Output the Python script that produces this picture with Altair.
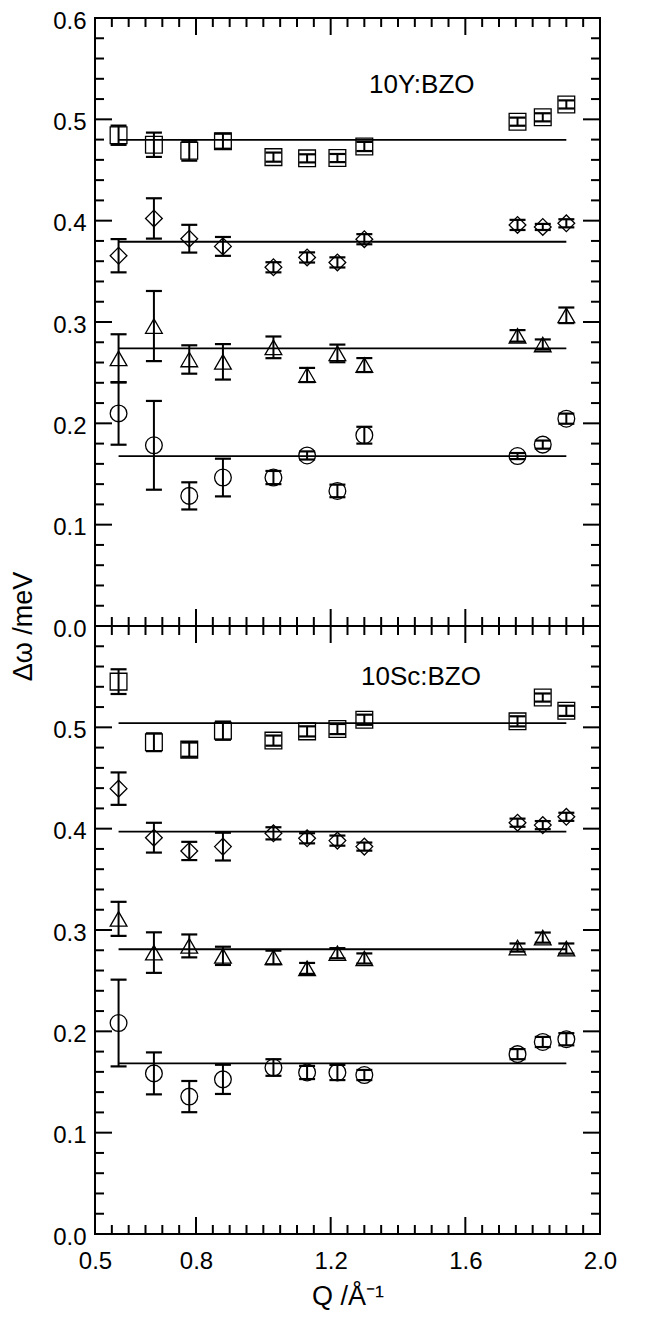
import altair as alt
import pandas as pd

# ---------------- data ----------------
Q = [0.57, 0.675, 0.78, 0.88, 1.03, 1.13, 1.22, 1.30, 1.755, 1.83, 1.90]
SERIES = ["square", "diamond", "triangle", "circle"]

# 10Y:BZO (upper panel)
y_square = [0.4843, 0.4749, 0.469, 0.4784, 0.4627, 0.4615, 0.4618, 0.4732, 0.4977, 0.502, 0.5147]
y_square_err = [0.0095, 0.012, 0.0098, 0.0074, 0.0045, 0.004, 0.004, 0.0045, 0.004, 0.004, 0.004]
y_diamond = [0.3654, 0.4022, 0.3822, 0.3746, 0.354, 0.3637, 0.3588, 0.3817, 0.3958, 0.3938, 0.3974]
y_diamond_err = [0.0164, 0.0199, 0.0137, 0.0093, 0.005, 0.005, 0.005, 0.005, 0.005, 0.003, 0.004]
y_triangle = [0.2641, 0.296, 0.263, 0.2607, 0.275, 0.2477, 0.269, 0.2575, 0.2863, 0.2778, 0.3066]
y_triangle_err = [0.0238, 0.0346, 0.014, 0.0175, 0.0107, 0.007, 0.0087, 0.0069, 0.0057, 0.005, 0.0077]
y_circle = [0.2098, 0.1783, 0.1284, 0.1465, 0.1465, 0.1683, 0.1333, 0.1883, 0.1677, 0.179, 0.2046]
y_circle_err = [0.0309, 0.0438, 0.0134, 0.0186, 0.0065, 0.004, 0.0062, 0.0083, 0.003, 0.004, 0.005]
y_levels = [0.4798, 0.3792, 0.2739, 0.1677]

# 10Sc:BZO (lower panel)
sc_square = [0.5451, 0.4853, 0.478, 0.4967, 0.4869, 0.496, 0.4983, 0.5075, 0.5059, 0.5294, 0.5163]
sc_square_err = [0.0122, 0.0088, 0.007, 0.009, 0.005, 0.005, 0.005, 0.005, 0.005, 0.004, 0.005]
sc_diamond = [0.4395, 0.3911, 0.378, 0.3823, 0.3954, 0.3905, 0.3882, 0.3823, 0.4059, 0.4035, 0.4117]
sc_diamond_err = [0.016, 0.0147, 0.009, 0.0137, 0.006, 0.005, 0.005, 0.004, 0.004, 0.004, 0.004]
sc_triangle = [0.311, 0.2777, 0.2843, 0.2745, 0.2729, 0.2621, 0.2771, 0.2719, 0.2827, 0.2925, 0.2817]
sc_triangle_err = [0.0168, 0.02, 0.0113, 0.009, 0.0067, 0.0054, 0.005, 0.005, 0.004, 0.005, 0.005]
sc_circle = [0.2082, 0.1585, 0.1356, 0.1526, 0.1643, 0.1594, 0.1594, 0.1569, 0.1775, 0.1895, 0.1922]
sc_circle_err = [0.0428, 0.0207, 0.0154, 0.0144, 0.0082, 0.0065, 0.0075, 0.005, 0.005, 0.005, 0.006]
sc_levels = [0.5042, 0.397, 0.281, 0.1683]

FIT_START = 0.57
FIT_END = 1.90

LABEL_Y = "10Y:BZO"
LABEL_Y_POS = (1.314, 0.526)
LABEL_SC = "10Sc:BZO"
LABEL_SC_POS = (1.29, 0.5415)

X_LABELS = [0.5, 0.8, 1.2, 1.6, 2.0]
X_MAJOR = [0.8, 1.2, 1.6]
X_MINOR = [0.55, 0.6, 0.65, 0.7, 0.75, 0.85, 0.9, 0.95, 1.0, 1.05, 1.1, 1.15,
           1.25, 1.3, 1.35, 1.4, 1.45, 1.5, 1.55, 1.65, 1.7, 1.75, 1.8, 1.85, 1.9, 1.95]
Y_LABELS_TOP = [0.0, 0.1, 0.2, 0.3, 0.4, 0.5, 0.6]
Y_LABELS_BOTTOM = [0.0, 0.1, 0.2, 0.3, 0.4, 0.5]
Y_MAJOR = [0.1, 0.2, 0.3, 0.4, 0.5]
Y_MINOR = [0.02, 0.04, 0.06, 0.08, 0.12, 0.14, 0.16, 0.18, 0.22, 0.24, 0.26, 0.28,
           0.32, 0.34, 0.36, 0.38, 0.42, 0.44, 0.46, 0.48, 0.52, 0.54, 0.56, 0.58]

# ---------------- styling ----------------
W, H = 505, 608
FONT = "Liberation Sans"
MAJ_LEN, MIN_LEN = 17, 9
TICK_FS = 24

xscale = alt.Scale(domain=[0.5, 2.0], nice=False, zero=False)
yscale = alt.Scale(domain=[0.0, 0.6], nice=False, zero=False)


def long_table(vals, errs):
    rows = []
    for s, v, e in zip(SERIES, vals, errs):
        for q, vv, ee in zip(Q, v, e):
            rows.append({"Q": q, "v": vv, "e": ee, "s": s})
    return pd.DataFrame(rows)


def panel(df, levels, label, label_pos, x_axis, y_axis):
    X = lambda f: alt.X(f"{f}:Q", scale=xscale, axis=x_axis)
    Y = lambda f: alt.Y(f"{f}:Q", scale=yscale, axis=y_axis)

    layers = []
    # inward frame ticks: x (top and bottom edges)
    for vals, ln in ((X_MAJOR, MAJ_LEN), (X_MINOR, MIN_LEN)):
        tdf = pd.DataFrame({"t": vals})
        base = alt.Chart(tdf).mark_rule(color="black", strokeWidth=2)
        layers.append(base.encode(x=X("t"), y=alt.value(0), y2=alt.value(ln)))
        layers.append(base.encode(x=X("t"), y=alt.value(H), y2=alt.value(H - ln)))
    # inward frame ticks: y (left and right edges)
    for vals, ln in ((Y_MAJOR, MAJ_LEN), (Y_MINOR, MIN_LEN)):
        tdf = pd.DataFrame({"t": vals})
        base = alt.Chart(tdf).mark_rule(color="black", strokeWidth=2)
        layers.append(base.encode(y=Y("t"), x=alt.value(0), x2=alt.value(ln)))
        layers.append(base.encode(y=Y("t"), x=alt.value(W), x2=alt.value(W - ln)))

    # fitted constant lines
    fdf = pd.DataFrame({"lvl": levels, "x0": [FIT_START] * len(levels), "x1": [FIT_END] * len(levels)})
    layers.append(
        alt.Chart(fdf).mark_rule(color="black", strokeWidth=1.8).encode(
            x=X("x0"), x2="x1:Q", y=Y("lvl")
        )
    )

    base = alt.Chart(df).transform_calculate(
        lo="datum.v - datum.e", hi="datum.v + datum.e"
    )
    # error bar stems
    layers.append(
        base.mark_rule(color="black", strokeWidth=2).encode(x=X("Q"), y=Y("lo"), y2="hi:Q")
    )
    # error bar caps
    layers.append(
        base.transform_fold(["lo", "hi"], as_=["k", "yv"]).mark_tick(
            orient="horizontal", size=16, thickness=2.2, color="black", opacity=1
        ).encode(x=X("Q"), y=Y("yv"))
    )
    # markers
    layers.append(
        alt.Chart(df).mark_point(filled=False, color="black", strokeWidth=1.3, size=280, opacity=1).encode(
            x=X("Q"),
            y=Y("v"),
            shape=alt.Shape(
                "s:N",
                scale=alt.Scale(domain=SERIES, range=["square", "diamond", "triangle-up", "circle"]),
                legend=None,
            ),
        )
    )
    # sample label
    tdf = pd.DataFrame({"lab": [label], "Q": [label_pos[0]], "v": [label_pos[1]]})
    layers.append(
        alt.Chart(tdf).mark_text(
            align="left", baseline="alphabetic", font=FONT, fontSize=26, color="black"
        ).encode(x=X("Q"), y=Y("v"), text="lab:N")
    )
    return alt.layer(*layers).properties(width=W, height=H)


y_axis_top = alt.Axis(
    values=Y_LABELS_TOP, format=".1f", ticks=False, domain=False, grid=False,
    labelFont=FONT, labelFontSize=TICK_FS, labelColor="black", labelPadding=9,
    labelFlush=False, labelOverlap=False, labelOffset=3,
    title="Δω /meV", titleFont=FONT, titleFontSize=27, titleFontWeight="normal",
    titleColor="black", titleX=-72, titleY=H, titleAlign="center", titleBaseline="middle",
)
y_axis_bottom = alt.Axis(
    values=Y_LABELS_BOTTOM, format=".1f", ticks=False, domain=False, grid=False,
    labelFont=FONT, labelFontSize=TICK_FS, labelColor="black", labelPadding=9,
    labelFlush=False, labelOverlap=False, labelOffset=3, title=None,
)
x_axis_bottom = alt.Axis(
    values=X_LABELS, format=".1f", ticks=False, domain=False, grid=False,
    labelFont=FONT, labelFontSize=TICK_FS, labelColor="black", labelPadding=15,
    labelFlush=False, labelOverlap=False,
    title="Q /Å⁻¹", titleFont=FONT, titleFontSize=27, titleFontWeight="normal",
    titleColor="black", titlePadding=10,
)

top = panel(
    long_table([y_square, y_diamond, y_triangle, y_circle],
               [y_square_err, y_diamond_err, y_triangle_err, y_circle_err]),
    y_levels, LABEL_Y, LABEL_Y_POS, None, y_axis_top,
)
bottom = panel(
    long_table([sc_square, sc_diamond, sc_triangle, sc_circle],
               [sc_square_err, sc_diamond_err, sc_triangle_err, sc_circle_err]),
    sc_levels, LABEL_SC, LABEL_SC_POS, x_axis_bottom, y_axis_bottom,
)

chart = (
    alt.vconcat(top, bottom, spacing=0, bounds="flush")
    .properties(padding={"left": 0, "top": 0, "right": 0, "bottom": 0})
    .configure_view(stroke="black", strokeWidth=2)
)

chart.save("out.html", embed_options={"renderer": "svg", "actions": False})
